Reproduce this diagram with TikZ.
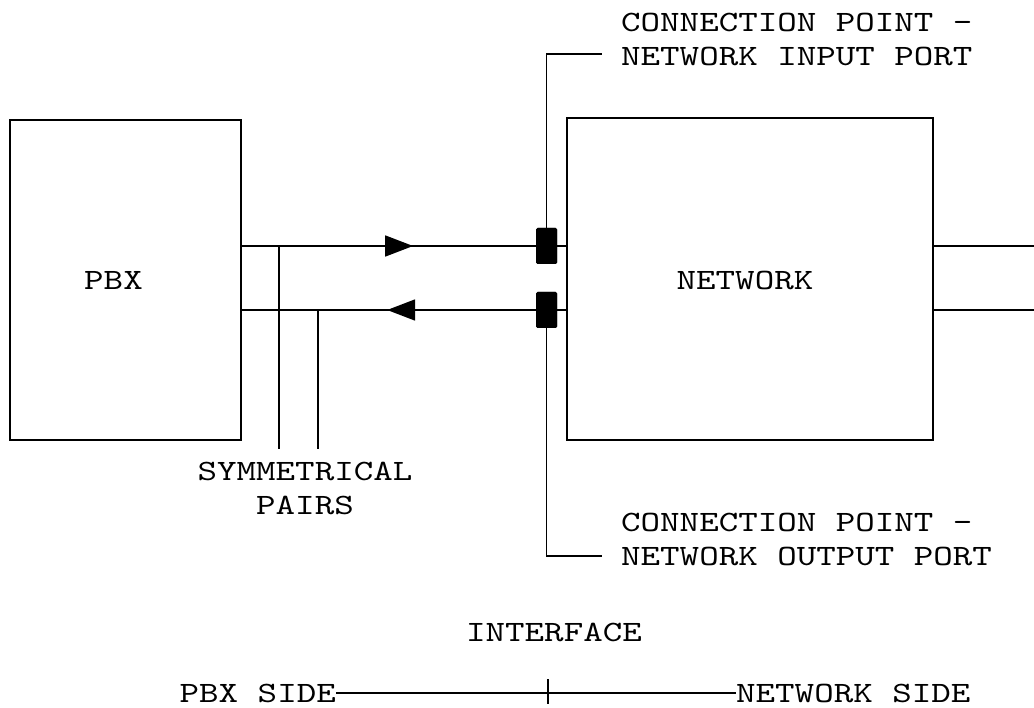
\documentclass[tikz,border=0pt]{standalone}
\usepackage{fontspec}
\newfontfamily\courfont[FakeStretch=1.26]{lmmono10-regular.otf}
\usetikzlibrary{arrows.meta,positioning,decorations.markings}

\tikzset{
  box/.style={draw, line width=1.8pt, inner sep=0pt},
  port/.style={fill=black, rounded corners=1.5pt, minimum width=21pt, minimum height=36pt, inner sep=0pt},
  lbl/.style={font=\courfont\fontsize{29.5}{34}\selectfont, inner sep=0pt},
  wire/.style={line width=1.8pt},
  flow/.style={decoration={markings, mark=at position #1 with {\arrow{Triangle[length=28pt,width=21pt]}}}, postaction={decorate}},
}

\begin{document}
\begin{tikzpicture}[x=1pt, y=-1pt]
    \useasboundingbox (0,0) rectangle (1034,708);

    % the two blocks
    \node[box, minimum width=231pt, minimum height=320pt] (pbx) at (125.5,280) {};
    \node[box, minimum width=366pt, minimum height=322pt] (net) at (750,279) {};
    \node[lbl] (pbxlbl) at (113.5,280) {PBX};
    \node[lbl] (netlbl) at (745,280) {NETWORK};

    % connection points
    \node[port] (cin) at (546.5,246) {};
    \node[port] (cout) at (546.5,310) {};

    % symmetrical pairs
    \draw[wire, flow=0.528] (pbx.east |- cin) -- (net.west |- cin);
    \draw[wire, flow=0.552] (net.west |- cout) -- (pbx.east |- cout);
    \node[port] at (cin) {};
    \node[port] at (cout) {};

    % lines leaving the network
    \coordinate (r1) at (1034,246);
    \coordinate (r2) at (1034,310);
    \draw[wire] (net.east |- cin) -- (r1);
    \draw[wire] (net.east |- cout) -- (r2);

    % leaders to the connection point labels
    \coordinate (inend) at (602,54);
    \coordinate (outend) at (602,556);
    \draw[wire] (cin.north) |- (inend);
    \draw[wire] (cout.south) |- (outend);
    \node[lbl, align=left, anchor=west] (inlbl) at (621,39) {CONNECTION POINT -\\NETWORK INPUT PORT};
    \node[lbl, align=left, anchor=west] (outlbl) at (621,539) {CONNECTION POINT -\\NETWORK OUTPUT PORT};

    % pair leaders
    \coordinate (p1) at (279,449);
    \coordinate (p2) at (318,449);
    \draw[wire] (p1 |- cin) -- (p1);
    \draw[wire] (p2 |- cout) -- (p2);
    \node[lbl, align=center] (symlbl) at (305,488) {SYMMETRICAL\\PAIRS};

    % interface
    \node[lbl] (iface) at (554,632) {INTERFACE};
    \node[lbl, anchor=east] (pbxside) at (336,693) {PBX SIDE};
    \node[lbl, anchor=west] (netside) at (736,693) {NETWORK SIDE};
    \draw[wire] (pbxside.east) -- (netside.west);
    \coordinate (tk) at (548,679);
    \draw[wire] (tk) -- ++(0,25);
\end{tikzpicture}
\end{document}
